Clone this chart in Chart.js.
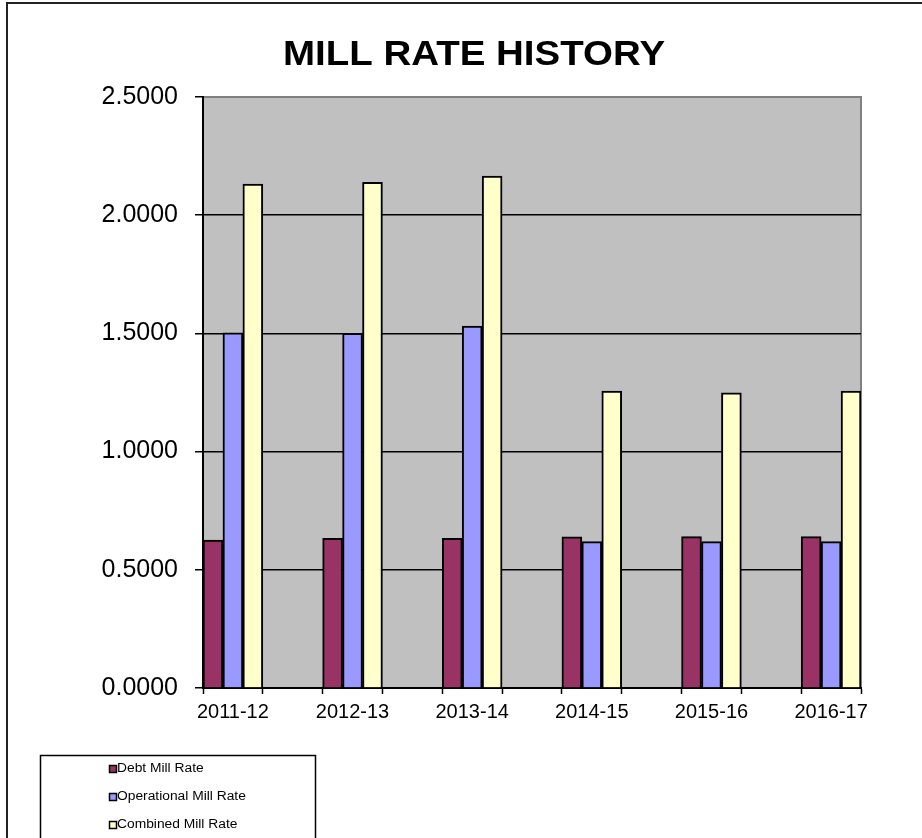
<!DOCTYPE html>
<html>
<head>
<meta charset="utf-8">
<script src="https://cdn.jsdelivr.net/npm/chart.js@4"></script>
<style>
  html, body { margin: 0; padding: 0; background: #fff; }
  #wrap { width: 922px; height: 838px; }
</style>
</head>
<body>
<div id="wrap"><canvas id="millChart" width="922" height="838"></canvas></div>
<script>
const years = ["2011-12", "2012-13", "2013-14", "2014-15", "2015-16", "2016-17"];
const debtRate = [0.626, 0.633, 0.633, 0.639, 0.640, 0.640];
const operationalRate = [1.502, 1.500, 1.531, 0.619, 0.619, 0.619];
const combinedRate = [2.132, 2.139, 2.166, 1.256, 1.249, 1.256];
const yTicks = [0, 0.5, 1.0, 1.5, 2.0, 2.5];

// the original sheet puts an empty category between every year
function spaced(arr, blank) {
    const out = [];
    arr.forEach((v, i) => {
        out.push(v);
        if (i < arr.length - 1) out.push(blank);
    });
    return out;
}

const FONT = "'Liberation Sans', Arial, sans-serif";

const frame = {
    id: "frame",
    beforeDraw(chart) {
        const ctx = chart.ctx;
        const a = chart.chartArea;
        ctx.save();
        ctx.fillStyle = "#fff";
        ctx.fillRect(0, 0, chart.width, chart.height);
        ctx.strokeStyle = "#222";
        ctx.lineWidth = 2;
        ctx.strokeRect(7, 3, 1000, 1000);
        ctx.fillStyle = "#C0C0C0";
        ctx.fillRect(a.left, a.top, a.right - a.left, a.bottom - a.top);
        ctx.strokeStyle = "#808080";
        ctx.lineWidth = 2;
        ctx.beginPath();
        ctx.moveTo(a.left, a.top);
        ctx.lineTo(a.right, a.top);
        ctx.lineTo(a.right, a.bottom);
        ctx.stroke();

        // title
        ctx.fillStyle = "#000";
        ctx.font = "bold 35px " + FONT;
        ctx.textAlign = "center";
        ctx.textBaseline = "alphabetic";
        ctx.translate(474, 65);
        ctx.scale(1.1, 1);
        ctx.fillText("MILL RATE HISTORY", 0, 0);
        ctx.restore();
    },
    afterDraw(chart) {
        const ctx = chart.ctx;
        ctx.save();
        ctx.strokeStyle = "#000";
        ctx.lineWidth = 1.5;
        ctx.strokeRect(40.5, 755.5, 275, 120);
        ctx.font = "12px " + FONT;
        ctx.textBaseline = "middle";
        ctx.textAlign = "left";
        chart.data.datasets.forEach((ds, i) => {
            const y = 769 + i * 28;
            ctx.fillStyle = ds.backgroundColor;
            ctx.fillRect(109.5, y - 3.5, 7, 7);
            ctx.lineWidth = 1.5;
            ctx.strokeRect(109.5, y - 3.5, 7, 7);
            ctx.save();
            ctx.translate(117, y);
            ctx.scale(1.15, 1);
            ctx.fillStyle = "#000";
            ctx.fillText(ds.label, 0, 0);
            ctx.restore();
        });
        ctx.restore();
    }
};

new Chart(document.getElementById("millChart"), {
    type: "bar",
    data: {
        labels: spaced(years, ""),
        datasets: [
            { label: "Debt Mill Rate", data: spaced(debtRate, null), backgroundColor: "#993366" },
            { label: "Operational Mill Rate", data: spaced(operationalRate, null), backgroundColor: "#9999FF" },
            { label: "Combined Mill Rate", data: spaced(combinedRate, null), backgroundColor: "#FFFFCC" }
        ].map(ds => Object.assign(ds, {
            borderColor: "#000",
            borderWidth: 2,
            categoryPercentage: 1,
            barPercentage: 1
        }))
    },
    options: {
        responsive: false,
        animation: false,
        devicePixelRatio: 1,
        layout: { padding: { left: 0, right: 61, top: 97, bottom: 0 } },
        plugins: {
            legend: { display: false },
            title: { display: false },
            tooltip: { enabled: false }
        },
        scales: {
            x: {
                offset: true,
                afterFit(scale) { scale.height = 150; },
                border: { color: "#000", width: 2 },
                grid: {
                    offset: true,
                    drawOnChartArea: false,
                    drawTicks: true,
                    tickLength: 6,
                    tickColor: "#000",
                    tickWidth: 1.5
                },
                ticks: {
                    autoSkip: false,
                    maxRotation: 0,
                    padding: 6,
                    color: "#000",
                    font: { family: FONT, size: 20 }
                }
            },
            y: {
                min: 0,
                max: 2.5,
                afterFit(scale) { scale.width = 203; },
                afterBuildTicks(scale) {
                    scale.ticks = yTicks.map(v => ({ value: v }));
                },
                border: { color: "#000", width: 2 },
                grid: {
                    color: ctx => (ctx.tick && ctx.tick.value === 2.5 ? "#808080" : "#000"),
                    lineWidth: 1.5,
                    drawTicks: true,
                    tickLength: 8,
                    tickColor: "#000",
                    tickWidth: 1.5
                },
                ticks: {
                    padding: 17,
                    color: "#000",
                    font: { family: FONT, size: 25 },
                    callback: v => Number(v).toFixed(4)
                }
            }
        }
    },
    plugins: [frame]
});
</script>
</body>
</html>
